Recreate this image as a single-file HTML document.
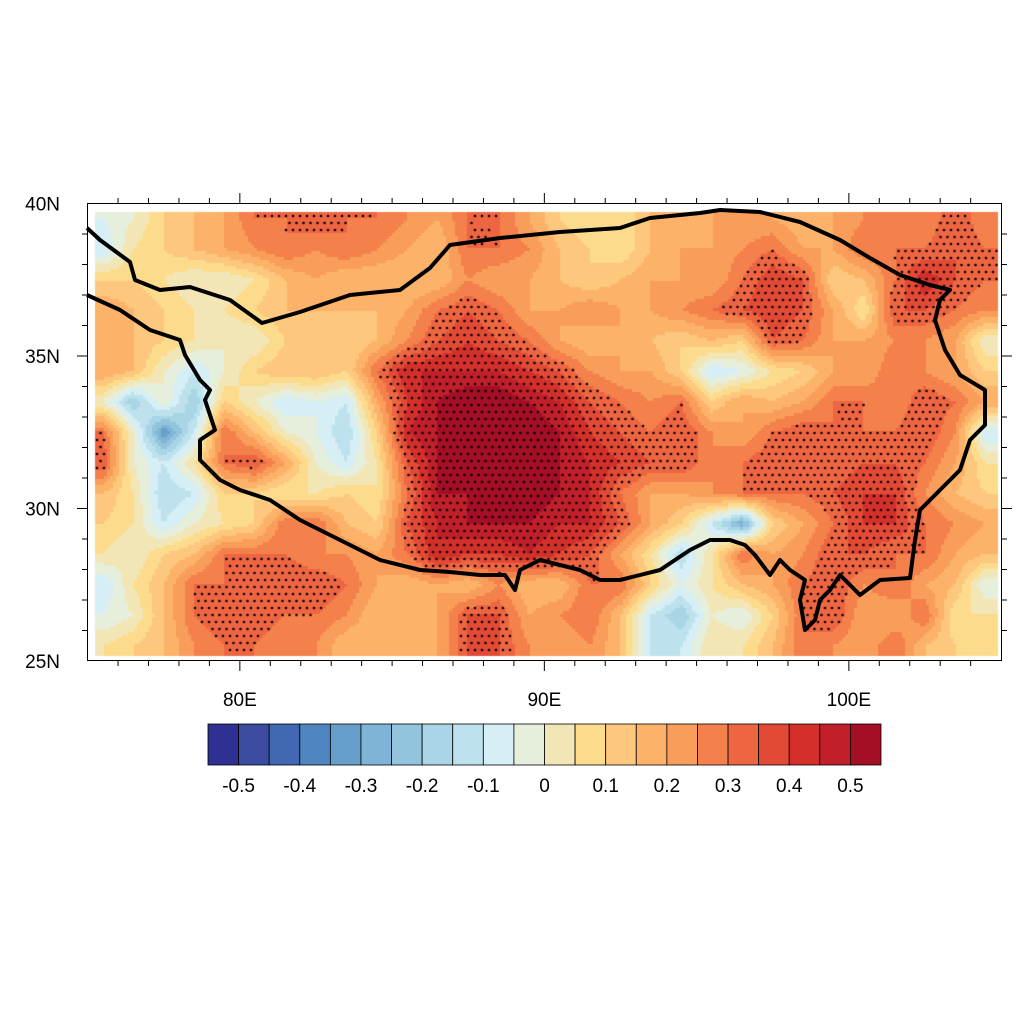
<!DOCTYPE html>
<html><head><meta charset="utf-8">
<style>
body{margin:0;background:#fff;width:1024px;height:1024px;overflow:hidden;font-family:"Liberation Sans",sans-serif}
#wrap{position:relative;width:1024px;height:1024px}
canvas,svg{position:absolute;left:0;top:0}
</style></head><body>
<div id="wrap">
<canvas id="cv" width="1024" height="1024"></canvas>
<svg id="sv" width="1024" height="1024"></svg>
</div>
<script>
const lons=[75.5,76.5,77.5,78.5,79.5,80.5,81.5,82.5,83.5,84.5,85.5,86.5,87.5,88.5,89.5,90.5,91.5,92.5,93.5,94.5,95.5,96.5,97.5,98.5,99.5,100.5,101.5,102.5,103.5,104.5];
const lats=[39.5,38.5,37.5,36.5,35.5,34.5,33.5,32.5,31.5,30.5,29.5,28.5,27.5,26.5,25.5];
const values=[
[-0.05,0,0.1,0.15,0.2,0.3,0.3,0.35,0.3,0.3,0.25,0.2,0.3,0.3,0.2,0.1,0.05,0.05,0.15,0.15,0.2,0.2,0.2,0.15,0.2,0.25,0.3,0.25,0.35,0.25],
[-0.1,0.05,0.1,0.15,0.2,0.25,0.3,0.25,0.3,0.25,0.2,0.15,0.3,0.3,0.25,0.15,0.1,0.05,0.15,0.2,0.2,0.25,0.3,0.2,0.2,0.3,0.3,0.3,0.35,0.3],
[0.1,0.1,0.05,0.0,0.0,0.05,0.15,0.2,0.15,0.15,0.15,0.15,0.25,0.2,0.2,0.15,0.1,0.15,0.2,0.2,0.2,0.3,0.4,0.35,0.1,0.15,0.3,0.45,0.35,0.3],
[0.2,0.15,0.1,0.05,0.05,0.1,0.15,0.15,0.15,0.15,0.2,0.3,0.35,0.3,0.2,0.2,0.25,0.2,0.2,0.25,0.3,0.35,0.4,0.35,0.2,0.05,0.35,0.35,0.3,0.25],
[0.15,0.15,0.1,0.05,0,0,0.1,0.1,0.1,0.15,0.25,0.35,0.4,0.35,0.3,0.2,0.15,0.2,0.15,0.1,0.15,0.1,0.35,0.3,0.2,0.2,0.25,0.25,0.2,0.0],
[0.2,0.15,0.0,-0.1,0.0,0.1,0.15,0.15,0.1,0.3,0.45,0.45,0.45,0.45,0.4,0.35,0.25,0.2,0.2,0.1,-0.1,-0.05,0.05,0.1,0.2,0.2,0.3,0.25,0.2,0.1],
[0.0,-0.2,0.0,-0.2,0.1,0.0,-0.1,-0.05,-0.1,0.2,0.4,0.5,0.55,0.55,0.5,0.45,0.35,0.3,0.25,0.3,0.1,0.2,0.15,0.2,0.3,0.3,0.25,0.35,0.3,0.2],
[0.3,0.0,-0.35,-0.1,0.3,0.15,0,-0.05,-0.15,0.1,0.45,0.5,0.55,0.55,0.55,0.5,0.4,0.35,0.3,0.35,0.25,0.2,0.3,0.35,0.3,0.3,0.3,0.35,0.25,-0.1],
[0.35,0.0,-0.1,0.05,0.3,0.35,0.2,0.0,-0.1,0.05,0.35,0.5,0.55,0.55,0.55,0.5,0.45,0.4,0.35,0.35,0.25,0.3,0.35,0.35,0.3,0.35,0.35,0.3,0.2,0.05],
[0.15,0.05,-0.15,-0.1,0.1,0.1,0.05,0.05,0.1,0.05,0.3,0.5,0.5,0.55,0.55,0.5,0.45,0.3,0.2,0.2,0.25,0.3,0.3,0.3,0.35,0.4,0.4,0.25,0.15,0.1],
[0.1,0.05,-0.1,0.0,0.05,0.1,0.3,0.3,0.15,0.1,0.35,0.45,0.5,0.5,0.5,0.45,0.45,0.35,0.2,0.1,-0.1,-0.3,0.1,0.2,0.3,0.4,0.4,0.3,0.25,0.2],
[0.05,0.0,0.1,0.15,0.3,0.3,0.3,0.25,0.25,0.2,0.3,0.45,0.4,0.4,0.45,0.4,0.35,0.2,0.05,-0.15,0.05,0.3,0.2,0.25,0.35,0.35,0.3,0.3,0.2,0.15],
[-0.1,0.05,0.15,0.3,0.3,0.35,0.35,0.35,0.3,0.2,0.15,0.2,0.15,0.25,0.15,0.15,0.3,0.3,0.1,-0.05,0.05,0.15,0.2,0.3,0.35,0.25,0.3,0.2,0.15,-0.05],
[-0.05,0.0,0.15,0.3,0.35,0.35,0.3,0.3,0.25,0.15,0.15,0.2,0.35,0.35,0.2,0.25,0.3,0.15,-0.1,-0.2,0.0,-0.05,0.1,0.3,0.35,0.2,0.2,0.3,0.05,0.05],
[0.05,0.1,0.15,0.25,0.3,0.3,0.25,0.25,0.15,0.15,0.15,0.2,0.35,0.35,0.25,0.2,0.25,0.15,-0.1,-0.1,0.05,0.05,0.15,0.3,0.25,0.2,0.3,0.15,0.1,0.1]];
const levelLabels=["-0.5","-0.4","-0.3","-0.2","-0.1","0","0.1","0.2","0.3","0.4","0.5"];
const lonTicks=[80,90,100];
const latTicks=[25,30,35,40];
const colors=["#2e3192","#3a4ba0","#4068b0","#4f86bf","#679fcb","#7fb4d6","#92c4dd","#a8d6e6","#bde2ed","#d6eef5","#e6eedc","#f2e6b6","#fcdc8c","#fdc77d","#fcb369","#f99d5a","#f4814b","#ee6542","#e34a36","#d4302b","#c11f2a","#a50f26"];
const sigThreshold=0.3;

const X0=87.6,PX=30.45,Y0=661,PY=30.5;
const xs=lon=>X0+(lon-75)*PX, ys=lat=>Y0-(lat-25)*PY;
function interp(lon,lat){
  let fi=(lon-lons[0]), fj=(lats[0]-lat);
  fi=Math.max(0,Math.min(lons.length-1.001,fi)); fj=Math.max(0,Math.min(lats.length-1.001,fj));
  const i=Math.floor(fi),j=Math.floor(fj),a=fi-i,b=fj-j;
  return values[j][i]*(1-a)*(1-b)+values[j][i+1]*a*(1-b)+values[j+1][i]*(1-a)*b+values[j+1][i+1]*a*b;
}
function colorOf(v){let k=Math.floor((v+0.55)/0.05+1e-9);k=Math.max(0,Math.min(21,k));return colors[k];}
const ctx=document.getElementById('cv').getContext('2d');
const dx0=95,dx1=997,dy0=212,dy1=655,st=3;
for(let y=dy0;y<dy1;y+=st){for(let x=dx0;x<dx1;x+=st){
  const lon=75+(x+st/2-X0)/PX, lat=25+(Y0-y-st/2)/PY;
  ctx.fillStyle=colorOf(interp(lon,lat));ctx.fillRect(x,y,st,st);}}
ctx.fillStyle="#000";
let row=0;
for(let y=dy0+4;y<dy1;y+=7,row++){for(let x=dx0+2+(row%2)*3.5;x<dx1;x+=7){
  const lon=75+(x-X0)/PX, lat=25+(Y0-y)/PY;
  if(interp(lon,lat)>=sigThreshold){ctx.beginPath();ctx.arc(x,y,1.3,0,6.3);ctx.fill();}}}

const NS="http://www.w3.org/2000/svg",sv=document.getElementById('sv');
function mk(t,at,p){const e=document.createElementNS(NS,t);for(const k in at)e.setAttribute(k,at[k]);(p||sv).appendChild(e);return e;}
const tp=[[87,228],[100,240],[130,262],[135,280],[160,290],[190,287],[230,300],[262,323],[300,312],[350,295],[400,290],[430,268],[450,245],[500,238],[560,232],[620,228],[650,218],[700,213],[720,210],[760,212],[800,222],[840,240],[870,258],[900,275],[930,285],[950,290],[940,300],[935,320],[945,350],[960,375],[985,390],[985,425],[970,440],[960,470],[940,490],[920,510],[915,540],[910,578],[880,580],[860,595],[840,575],[830,590],[820,600],[815,620],[805,630],[800,600],[805,580],[790,570],[780,560],[770,575],[755,555],[745,545],[730,540],[710,540],[690,550],[660,570],[620,580],[600,580],[580,570],[560,565],[540,560],[520,570],[515,590],[505,575],[480,575],[450,572],[420,570],[380,560],[340,540],[300,520],[270,500],[240,490],[220,480],[200,460],[200,440],[215,430],[205,400],[210,390],[200,380],[185,355],[180,340],[150,330],[120,310],[87,295]];
const b=mk('polyline',{points:tp.map(p=>p.join(',')).join(' '),fill:'none',stroke:'#000','stroke-width':4,'stroke-linejoin':'round'});


const fr=mk('rect',{x:87.5,y:203.5,width:914,height:457,fill:'none',stroke:'#000','stroke-width':1});


for(let l=76;l<=104;l++){const x=xs(l),maj=l%10==0;mk('line',{x1:x,x2:x,y1:661,y2:661+(maj?10:5),stroke:'#000'});mk('line',{x1:x,x2:x,y1:203,y2:203-(maj?10:5),stroke:'#000'});}
for(let l=26;l<=39;l++){const y=ys(l),maj=l%5==0;mk('line',{x1:87,x2:87-(maj?10:5),y1:y,y2:y,stroke:'#000'});mk('line',{x1:1002,x2:1002+(maj?10:5),y1:y,y2:y,stroke:'#000'});}
lonTicks.forEach(l=>{const t=mk('text',{x:xs(l),y:706,'text-anchor':'middle','font-size':19});t.textContent=l+'E';

});
latTicks.forEach(l=>{const t=mk('text',{x:60,y:ys(l)+7,'text-anchor':'end','font-size':19});t.textContent=l+'N';

});
const cbw=673/22;
colors.forEach((c,i)=>{const r=mk('rect',{x:208+i*cbw,y:724,width:cbw,height:41,fill:c,stroke:'#000','stroke-width':0.8});

});
levelLabels.forEach((s,i)=>{const t=mk('text',{x:208+cbw*(1+2*i),y:792,'text-anchor':'middle','font-size':19});t.textContent=s;

});
</script>
</body></html>
